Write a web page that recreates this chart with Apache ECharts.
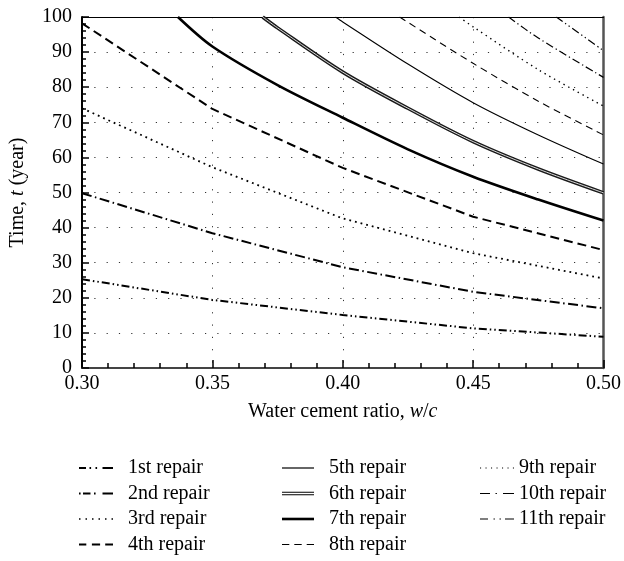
<!DOCTYPE html>
<html>
<head>
<meta charset="utf-8">
<script src="https://cdn.jsdelivr.net/npm/echarts@6/dist/echarts.min.js"></script>
<style>
html,body{margin:0;padding:0;background:#fff;}
#chart{width:624px;height:561px;}
</style>
</head>
<body>
<div id="chart"></div>
<script>
// ---- data ----
const xTicks = [0.30, 0.35, 0.40, 0.45, 0.50];
const yTicks = [0, 10, 20, 30, 40, 50, 60, 70, 80, 90, 100];

// lower four curves (values at 0.30, 0.35, 0.40, 0.45, 0.50)
const wcLow = [0.30, 0.35, 0.40, 0.45, 0.50];
const repair1 = [25.3, 19.4, 15.1, 11.3, 8.9];
const repair2 = [49.8, 38.4, 28.7, 21.7, 17.0];
const repair3 = [74.0, 57.2, 42.6, 32.7, 25.5];
const repair4 = [98.2, 73.8, 57.0, 43.1, 33.6];

// thick solid curve (legend: 7th repair)
const wc7 = [0.3368, 0.35, 0.375, 0.40, 0.425, 0.45, 0.475, 0.50];
const repair7 = [100, 91.6, 80.6, 71.3, 62.3, 54.5, 48.0, 42.0];
// double line (legend: 6th repair)
const wc6 = [0.3693, 0.375, 0.40, 0.425, 0.45, 0.475, 0.50];
const repair6 = [100, 96.9, 84.3, 74.0, 64.5, 56.7, 49.9];
// thin solid (legend: 5th repair)
const wc5 = [0.3972, 0.40, 0.425, 0.45, 0.475, 0.50];
const repair5 = [100, 98.6, 86.6, 75.6, 66.4, 58.1];
// thin dashed (8th)
const wc8 = [0.4218, 0.45, 0.475, 0.50];
const repair8 = [100, 86.8, 76.0, 66.4];
// thin dotted (9th)
const wc9 = [0.4446, 0.45, 0.475, 0.50];
const repair9 = [100, 97.2, 85.0, 74.6];
// thin dash-dot (10th)
const wc10 = [0.4636, 0.475, 0.50];
const repair10 = [100, 94.0, 82.8];
// thin dash-dot-dot (11th)
const wc11 = [0.4819, 0.50];
const repair11 = [100, 90.4];

const names = ['1st repair','2nd repair','3rd repair','4th repair','5th repair','6th repair',
               '7th repair','8th repair','9th repair','10th repair','11th repair'];

function pts(xs, ys){ return xs.map((x,i)=>[x, ys[i]]); }

const FONT = 'Liberation Serif';
const chart = echarts.init(document.getElementById('chart'), null, {renderer:'canvas'});

function lineSeries(name, xs, ys, width, type, color, smooth){
  return {
    name: name, type: 'line', data: pts(xs, ys), symbol: 'none',
    smooth: smooth || false,
    clip: true, silent: true,
    lineStyle: {color: color || '#000', width: width, type: type, cap: 'butt'},
    itemStyle: {color: '#000'}
  };
}

const series = [
  lineSeries(names[0], wcLow, repair1, 2, [8,3,1.5,3,1.5,3]),
  lineSeries(names[1], wcLow, repair2, 2, [10,3.5,1.5,3.5]),
  lineSeries(names[2], wcLow, repair3, 1.8, [1.8,4]),
  lineSeries(names[3], wcLow, repair4, 2, [9,5]),
  lineSeries(names[4], wc5, repair5, 1.1, 'solid', null, 0.3),
  lineSeries(names[5], wc6, repair6, 3.6, 'solid', '#1a1a1a', 0.3),
  lineSeries('', wc6, repair6, 1, 'solid', '#d8d8d8', 0.3),
  lineSeries(names[6], wc7, repair7, 2.6, 'solid', null, 0.3),
  lineSeries(names[7], wc8, repair8, 1.1, [7,5], null, 0.3),
  lineSeries(names[8], wc9, repair9, 1.4, [1.4,4], null, 0.3),
  lineSeries(names[9], wc10, repair10, 1.2, [8,3,1.3,3], null, 0.3),
  lineSeries(names[10], wc11, repair11, 1.2, [8,3,1.3,3,1.3,3], null, 0.3)
];

// legend icons (drawn shapes of each line style)
const icons = {
  '1st repair': 'path://M0,0h7v2h-7z M10.5,0h1.6v2h-1.6z M16.5,0h1.6v2h-1.6z M23.5,0h10.5v2h-10.5z',
  '2nd repair': 'path://M0,0h1.6v2h-1.6z M4,0h7.5v2h-7.5z M15,0h1.6v2h-1.6z M23.5,0h10.5v2h-10.5z',
  '3rd repair': 'path://M0,0h1.5v1.5h-1.5z M6.5,0h1.5v1.5h-1.5z M13,0h1.5v1.5h-1.5z M19.5,0h1.5v1.5h-1.5z M26,0h1.5v1.5h-1.5z M32.5,0h1.5v1.5h-1.5z',
  '4th repair': 'path://M0,0h7.3v2.2h-7.3z M12.9,0h8.2v2.2h-8.2z M26.2,0h7.8v2.2h-7.8z',
  '5th repair': 'path://M0,0h32v1.2h-32z',
  '6th repair': 'path://M0,0h32v1.1h-32z M0,2.4h32v1.1h-32z',
  '7th repair': 'path://M0,0h32v2.6h-32z',
  '8th repair': 'path://M0,0h7.3v1.2h-7.3z M12.3,0h7.4v1.2h-7.4z M24.7,0h7.3v1.2h-7.3z',
  '9th repair': 'path://M0,0h1.1v1.1h-1.1z M5.5,0h1.1v1.1h-1.1z M11,0h1.1v1.1h-1.1z M16.5,0h1.1v1.1h-1.1z M22,0h1.1v1.1h-1.1z M27.5,0h1.1v1.1h-1.1z M32.9,0h1.1v1.1h-1.1z',
  '10th repair': 'path://M0,0h10v1.2h-10z M15.5,0h1.4v1.2h-1.4z M23,0h11v1.2h-11z',
  '11th repair': 'path://M0,0h8v1.2h-8z M13.5,0h1.4v1.2h-1.4z M19.5,0h1.4v1.2h-1.4z M25,0h9v1.2h-9z'
};

function legendCol(list, left, iw, pad){
  return {
    show: true, orient: 'vertical', left: left, top: 458, padding: 0,
    itemWidth: iw, itemHeight: 14, itemGap: 5.5, selectedMode: false,
    data: list.map(n => ({name: n, icon: icons[n]})),
    itemStyle: {color: '#000', borderWidth: 0, borderColor: 'transparent'},
    lineStyle: {width: 0},
    textStyle: {fontFamily: FONT, fontSize: 20, color: '#000', lineHeight: 20, padding: [0,0,0,pad]}
  };
}

const dotted = {show: true, lineStyle: {color: '#333', width: 1, type: [1.2, 11.1]}};

const option = {
  animation: false,
  backgroundColor: '#fff',
  textStyle: {fontFamily: FONT},
  grid: {left: 79, right: 18, top: 17, bottom: 193, containLabel: false},
  legend: [
    legendCol(names.slice(0,4), 79, 34, 10),
    legendCol(names.slice(4,8), 282, 32, 10),
    legendCol(names.slice(8,11), 480, 34, 0)
  ],
  xAxis: [{
    type: 'value', min: xTicks[0], max: xTicks[xTicks.length-1], interval: 0.05,
    name: 'Water cement ratio, {i|w}/{i|c}', nameLocation: 'middle', nameGap: 34,
    nameTextStyle: {fontFamily: FONT, fontSize: 20, color: '#000', rich: {i: {fontFamily: FONT, fontSize: 20, fontStyle: 'italic', color:'#000'}}},
    axisLine: {show: true, onZero: false, lineStyle: {color: '#444', width: 2}},
    axisTick: {show: true, inside: true, length: 8, lineStyle: {color: '#000', width: 1.5}},
    minorTick: {show: true, splitNumber: 5, length: 5, lineStyle: {color: '#000', width: 1.5}},
    axisLabel: {fontFamily: FONT, fontSize: 20, color: '#000', margin: 6, formatter: v => v.toFixed(2)},
    splitLine: dotted
  }, {
    type: 'value', position: 'top', min: xTicks[0], max: xTicks[xTicks.length-1],
    axisLine: {show: true, onZero: false, lineStyle: {color: '#000', width: 1}},
    axisTick: {show: false}, axisLabel: {show: false}, splitLine: {show: false}
  }],
  yAxis: [{
    type: 'value', min: yTicks[0], max: yTicks[yTicks.length-1], interval: 10,
    name: 'Time, {i|t} (year)', nameLocation: 'middle', nameGap: 54,
    nameTextStyle: {fontFamily: FONT, fontSize: 20, color: '#000', rich: {i: {fontFamily: FONT, fontSize: 20, fontStyle: 'italic', color:'#000'}}},
    axisLine: {show: true, onZero: false, lineStyle: {color: '#000', width: 2}},
    axisTick: {show: true, inside: true, length: 7, lineStyle: {color: '#000', width: 1.5}},
    minorTick: {show: true, splitNumber: 5, length: 4, lineStyle: {color: '#000', width: 1.5}},
    axisLabel: {fontFamily: FONT, fontSize: 20, color: '#000', margin: 10},
    splitLine: dotted
  }, {
    type: 'value', position: 'right', min: yTicks[0], max: yTicks[yTicks.length-1],
    axisLine: {show: true, onZero: false, lineStyle: {color: '#555', width: 2.5}},
    axisTick: {show: false}, axisLabel: {show: false}, splitLine: {show: false}
  }],
  series: series
};
chart.setOption(option);
</script>
</body>
</html>
